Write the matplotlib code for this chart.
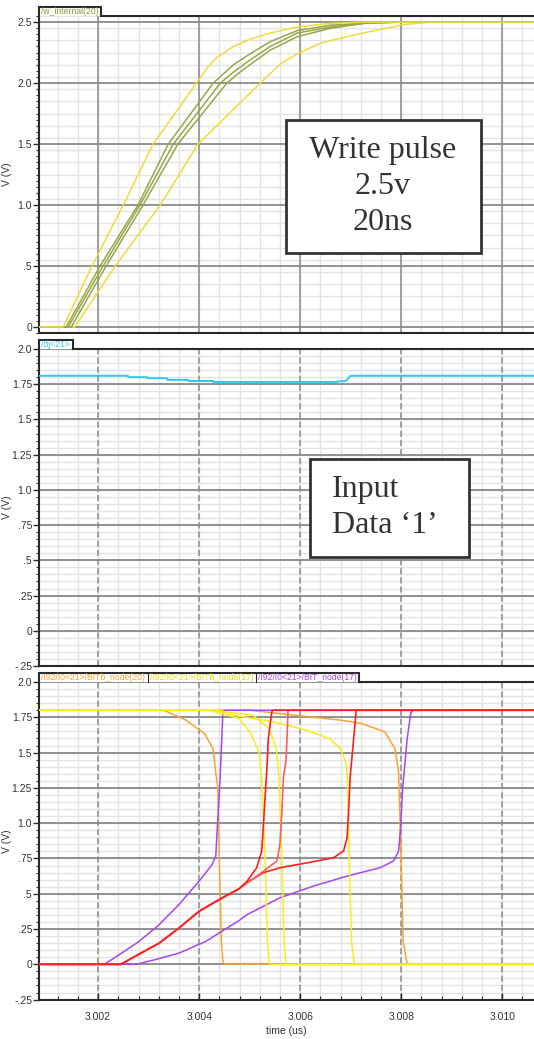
import matplotlib.pyplot as plt
import numpy as np
from matplotlib.ticker import MultipleLocator, FuncFormatter
from matplotlib.patches import Rectangle

# ---- panel 1: /w_internal(20) ----
w_fast_t = [3.0008, 3.00131, 3.00188, 3.00250, 3.00309, 3.00395, 3.00415, 3.00435, 3.00468, 3.00501, 3.00541, 3.00594, 3.00661, 3.00727, 3.0107]
w_fast_v = [0, 0, 0.5, 1.0, 1.5, 2.0, 2.12, 2.21, 2.30, 2.36, 2.41, 2.46, 2.49, 2.5, 2.5]
w_o1_t = [3.0008, 3.00137, 3.00204, 3.00279, 3.00339, 3.00428, 3.00468, 3.00501, 3.00541, 3.00594, 3.00661, 3.00760, 3.0107]
w_o1_v = [0, 0, 0.5, 1.0, 1.5, 2.0, 2.15, 2.24, 2.34, 2.43, 2.475, 2.5, 2.5]
w_o2_t = [3.0008, 3.00141, 3.00210, 3.00283, 3.00349, 3.00442, 3.00468, 3.00501, 3.00541, 3.00594, 3.00661, 3.00727, 3.00792, 3.0107]
w_o2_v = [0, 0, 0.5, 1.0, 1.5, 2.0, 2.09, 2.19, 2.30, 2.41, 2.46, 2.49, 2.5, 2.5]
w_o3_t = [3.0008, 3.00147, 3.00216, 3.00289, 3.00358, 3.00455, 3.00481, 3.00507, 3.00541, 3.00594, 3.00661, 3.00727, 3.00806, 3.0107]
w_o3_v = [0, 0, 0.5, 1.0, 1.5, 2.0, 2.09, 2.17, 2.27, 2.38, 2.45, 2.49, 2.5, 2.5]
w_slow_t = [3.0008, 3.00154, 3.00234, 3.00323, 3.00398, 3.00521, 3.00562, 3.00594, 3.00642, 3.00693, 3.00747, 3.00806, 3.00859, 3.0107]
w_slow_v = [0, 0, 0.5, 1.0, 1.5, 2.0, 2.16, 2.24, 2.33, 2.38, 2.43, 2.48, 2.5, 2.5]

# ---- panel 2: /dj<21> ----
dj_t = [3.0008, 3.00259, 3.00260, 3.00297, 3.00298, 3.00336, 3.00337, 3.00378, 3.00379, 3.00427, 3.00428, 3.00673, 3.00674, 3.00690, 3.00700, 3.0107]
dj_v = [1.81, 1.81, 1.80, 1.80, 1.793, 1.793, 1.781, 1.781, 1.773, 1.773, 1.766, 1.766, 1.770, 1.772, 1.81, 1.81]

# ---- panel 3: BITb / BIT nodes ----
or1_t = [3.0008, 3.0033, 3.00374, 3.00411, 3.00428, 3.00433, 3.00437, 3.00440, 3.00444, 3.00447, 3.0045, 3.0107]
or1_v = [1.8, 1.8, 1.73, 1.634, 1.525, 1.355, 1.25, 0.73, 0.16, 0.02, 0, 0]
or2_t = [3.0008, 3.0050, 3.00613, 3.00680, 3.00721, 3.00768, 3.00788, 3.00795, 3.00800, 3.00804, 3.00811, 3.00815, 3.0107]
or2_v = [1.8, 1.8, 1.755, 1.73, 1.707, 1.646, 1.525, 1.356, 0.73, 0.16, 0.02, 0, 0]

ye1_t = [3.0008, 3.00418, 3.00478, 3.00501, 3.00519, 3.00524, 3.00531, 3.00535, 3.00539, 3.0107]
ye1_v = [1.8, 1.8, 1.743, 1.646, 1.5, 1.31, 0.73, 0.16, 0, 0]
ye2_t = [3.0008, 3.00424, 3.00505, 3.00539, 3.00553, 3.00558, 3.00564, 3.00568, 3.00572, 3.0107]
ye2_v = [1.8, 1.8, 1.767, 1.671, 1.525, 1.331, 0.73, 0.16, 0, 0]
ye3_t = [3.0008, 3.00430, 3.00475, 3.00546, 3.00613, 3.00659, 3.00680, 3.00691, 3.00694, 3.00697, 3.00702, 3.00707, 3.0107]
ye3_v = [1.8, 1.8, 1.76, 1.719, 1.658, 1.598, 1.525, 1.43, 1.3, 0.73, 0.16, 0, 0]

pu1_t = [3.0008, 3.00212, 3.00242, 3.00281, 3.00321, 3.0036, 3.0040, 3.00426, 3.00433, 3.00436, 3.0044, 3.00443, 3.00447, 3.00451, 3.0107]
pu1_v = [0, 0, 0.068, 0.162, 0.281, 0.423, 0.589, 0.708, 0.767, 0.969, 1.208, 1.443, 1.78, 1.8, 1.8]
pu2_t = [3.0008, 3.00275, 3.00314, 3.0036, 3.00413, 3.00479, 3.00495, 3.0056, 3.00626, 3.00693, 3.00758, 3.00785, 3.00795, 3.00799, 3.00803, 3.00808, 3.00812, 3.00819, 3.00824, 3.0107]
pu2_v = [0, 0, 0.034, 0.079, 0.162, 0.31, 0.352, 0.471, 0.554, 0.625, 0.684, 0.732, 0.803, 0.969, 1.253, 1.443, 1.6, 1.78, 1.8, 1.8]

red_start_t = [3.0008, 3.00245, 3.00281, 3.00321, 3.0036, 3.0040, 3.0044, 3.00479]
red_start_v = [0, 0, 0.072, 0.15, 0.257, 0.376, 0.459, 0.535]
re1_t = [3.00495, 3.00514, 3.00524, 3.00527, 3.00531, 3.00535, 3.00537, 3.00544, 3.00546, 3.0107]
re1_v = [0.589, 0.684, 0.803, 0.969, 1.208, 1.443, 1.6, 1.79, 1.8, 1.8]
re2_t = [3.00505, 3.00535, 3.00554, 3.0056, 3.00564, 3.00567, 3.00572, 3.00574, 3.00576, 3.0107]
re2_v = [0.60, 0.68, 0.732, 0.85, 1.088, 1.325, 1.443, 1.6, 1.8, 1.8]
re3_t = [3.00495, 3.00527, 3.0056, 3.00626, 3.00666, 3.00686, 3.00693, 3.00696, 3.00699, 3.00702, 3.00706, 3.00711, 3.0107]
re3_v = [0.58, 0.649, 0.684, 0.727, 0.755, 0.803, 0.898, 1.088, 1.325, 1.443, 1.6, 1.8, 1.8]

x_ticks = [3.002, 3.004, 3.006, 3.008, 3.010]
x_labels = ['3.002', '3.004', '3.006', '3.008', '3.010']

YELLOW = '#ecdc3c'
OLIVE = '#98a648'
CYAN = '#2fc8ee'
ORANGE = '#f5a431'
BYELLOW = '#f7ee1e'
PURPLE = '#a646ee'
RED = '#ff1e1e'
LRED = '#ff5c5c'
SPINE = '#2a2a2a'
TXT = '#333333'

plt.rcParams['font.family'] = ['Liberation Sans Narrow', 'Liberation Sans', 'DejaVu Sans']

fig = plt.figure(figsize=(5.34, 10.39), dpi=100)
H = 1039.0
W = 534.0
left = 39 / W


def ylab(v, pos):
    if abs(v) < 1e-9:
        return '0'
    s = f'{v:.2f}'.rstrip('0')
    if s.endswith('.'):
        s += '0'
    if abs(v) < 1:
        s = s.replace('0.', '.')
    return s


def make_axes(top_px, bot_px, ylim, major, grid_minor, vdash):
    ax = fig.add_axes([left, 1 - bot_px / H, 1 - left, (bot_px - top_px) / H])
    ax.set_xlim(3.00083, 3.01063)
    ax.set_ylim(*ylim)
    ax.xaxis.set_major_locator(MultipleLocator(0.002))
    ax.xaxis.set_minor_locator(MultipleLocator(0.0004))
    ax.yaxis.set_major_locator(MultipleLocator(major))
    ax.yaxis.set_minor_locator(MultipleLocator(0.05))
    ax.yaxis.set_major_formatter(FuncFormatter(ylab))
    # light grid
    for x in np.arange(3.0008, 3.0107, 0.0004):
        ax.axvline(x, color='#e4e4e4', lw=1.0, zorder=0)
    for y in np.arange(ylim[0], ylim[1] + 1e-9, grid_minor):
        ax.axhline(y, color='#e4e4e4', lw=1.0, zorder=0)
    # dark grid
    for x in x_ticks:
        ax.axvline(x, color='#8a8a8a', lw=1.1, ls=(0, (4, 2)) if vdash else '-', zorder=0.5)
    for y in np.arange(np.ceil(ylim[0] / major) * major, ylim[1] + 1e-9, major):
        ax.axhline(y, color='#8a8a8a', lw=1.3, zorder=0.5)
    ax.tick_params(axis='y', which='major', direction='out', length=4, width=1,
                   color=SPINE, labelsize=7.5, labelcolor=TXT, pad=1)
    ax.tick_params(axis='y', which='minor', direction='out', length=2.5, width=0.8, color=SPINE)
    ax.tick_params(axis='x', which='both', length=0, labelbottom=False)
    for s in ['left', 'bottom']:
        ax.spines[s].set_color(SPINE)
        ax.spines[s].set_linewidth(1.5)
    ax.spines['right'].set_visible(False)
    ax.spines['top'].set_visible(False)
    ax.set_ylabel('V (V)', fontsize=7.5, color=TXT)
    ax.yaxis.set_label_coords(-0.055, 0.5)
    return ax


def tab(ax, top_px, bot_px, edges, labels, colors):
    h = 9 / (bot_px - top_px)
    tr = ax.transAxes
    ax.plot([edges[-1], 1], [1, 1], transform=tr, color=SPINE, lw=1.5, clip_on=False)
    ax.plot([0, 0, edges[-1], edges[-1]], [1, 1 + h, 1 + h, 1], transform=tr,
            color=SPINE, lw=1.5, clip_on=False, solid_joinstyle='miter')
    for i, (lab, c) in enumerate(zip(labels, colors)):
        x0 = 0 if i == 0 else edges[i - 1]
        if i > 0:
            ax.plot([x0, x0], [1, 1 + h], transform=tr, color=SPINE, lw=0.8, clip_on=False)
        ax.text(x0 + 0.004, 1 + h / 2, lab, transform=tr, color=c, fontsize=6.2,
                va='center', ha='left')


# panel 1
ax1 = make_axes(16, 333, (-0.05, 2.55), 0.5, 0.1, False)
for t, v, c in [(w_slow_t, w_slow_v, YELLOW), (w_o3_t, w_o3_v, OLIVE), (w_o2_t, w_o2_v, OLIVE),
                (w_o1_t, w_o1_v, OLIVE), (w_fast_t, w_fast_v, YELLOW)]:
    ax1.plot(t, v, color=c, lw=1.1, zorder=3)
tab(ax1, 16, 333, [(101 - 39) / (W - 39)], ['/w_internal(20)'], ['#8a9a38'])
ax1.add_patch(Rectangle((0.499, 0.252), 0.394, 0.42, transform=ax1.transAxes,
                        facecolor='white', edgecolor='#333333', lw=2, zorder=5))
ax1.text(0.695, 0.462, 'Write pulse\n2.5v\n20ns', transform=ax1.transAxes, ha='center', va='center',
         family='Liberation Serif', fontsize=23, color='#333333', linespacing=1.3, zorder=6)

# panel 2
ax2 = make_axes(349, 666, (-0.25, 2.0), 0.25, 0.05, True)
ax2.plot(dj_t, dj_v, color=CYAN, lw=1.4, zorder=3)
tab(ax2, 349, 666, [(73 - 39) / (W - 39)], ['/dj<21>'], [CYAN])
ax2.add_patch(Rectangle((0.547, 0.344), 0.322, 0.309, transform=ax2.transAxes,
                        facecolor='white', edgecolor='#333333', lw=2, zorder=5))
ax2.text(0.592, 0.50, 'Input\nData \u20181\u2019', transform=ax2.transAxes, ha='left', va='center',
         family='Liberation Serif', fontsize=23, color='#333333', linespacing=1.3, zorder=6)

# panel 3
ax3 = make_axes(682, 999.6, (-0.25, 2.0), 0.25, 0.05, True)
for t, v in [(or1_t, or1_v), (or2_t, or2_v)]:
    ax3.plot(t, v, color=ORANGE, lw=1.1, zorder=3)
for t, v in [(pu1_t, pu1_v), (pu2_t, pu2_v)]:
    ax3.plot(t, v, color=PURPLE, lw=1.1, zorder=3)
for t, v in [(ye1_t, ye1_v), (ye2_t, ye2_v), (ye3_t, ye3_v)]:
    ax3.plot(t, v, color=BYELLOW, lw=1.1, zorder=3)
for t, v, c in [(re3_t, re3_v, RED), (re2_t, re2_v, LRED), (re1_t, re1_v, RED)]:
    ax3.plot(red_start_t + t, red_start_v + v, color=c, lw=1.2, zorder=4)
tab(ax3, 682, 999.6, [(148 - 39) / (W - 39), (256 - 39) / (W - 39), (359 - 39) / (W - 39)],
    ['/I92/I0<21>/BITb_node(20)', '/I92/I0<21>/BITb_node(17)', '/I92/I0<21>/BIT_node(17)'],
    [ORANGE, '#e8dc10', PURPLE])
ax3.set_xticks(x_ticks)
ax3.set_xticklabels(x_labels)
ax3.tick_params(axis='x', which='major', direction='in', length=5, width=1, color=SPINE,
                labelbottom=True, labelsize=7.5, labelcolor=TXT, pad=9)
ax3.tick_params(axis='x', which='minor', direction='in', length=3, width=0.8, color=SPINE)
ax3.set_xlabel('time (us)', fontsize=7.5, color=TXT, labelpad=3)

fig.savefig('out.png', dpi=100)
